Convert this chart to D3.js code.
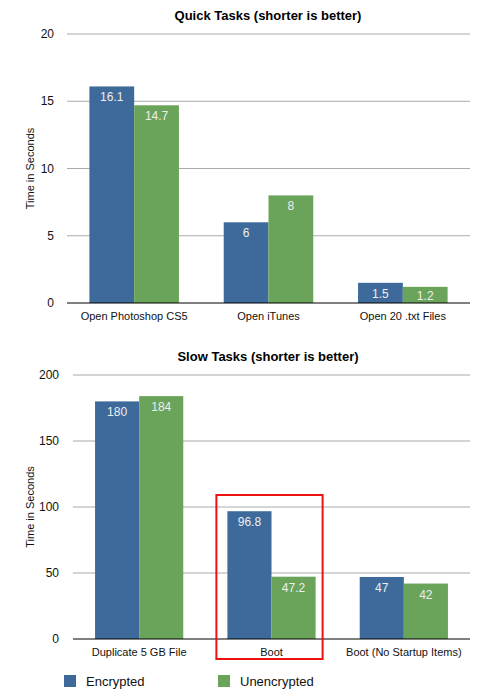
<!DOCTYPE html>
<html lang="en">
<head>
  <meta charset="utf-8">
  <title>Quick and Slow Tasks</title>
  <script src="https://cdn.jsdelivr.net/npm/d3@7"></script>
  <style>
  body { margin: 0; background: #fff; }
  svg { font-family: "Liberation Sans", Arial, sans-serif; }
  </style>
</head>
<body>
  <script>
  var series = ["Encrypted", "Unencrypted"];
  var colors = ["#3d6a9a", "#6aa45a"];

  var quickCategories = ["Open Photoshop CS5", "Open iTunes", "Open 20 .txt Files"];
  var quickEncrypted = [16.1, 6, 1.5];
  var quickUnencrypted = [14.7, 8, 1.2];
  var quickTicks = [0, 5, 10, 15, 20];

  var slowCategories = ["Duplicate 5 GB File", "Boot", "Boot (No Startup Items)"];
  var slowEncrypted = [180, 96.8, 47];
  var slowUnencrypted = [184, 47.2, 42];
  var slowTicks = [0, 50, 100, 150, 200];

  var width = 500, height = 697;

  var svg = d3.select("body").append("svg")
    .attr("width", width)
    .attr("height", height);

  function drawChart(opt) {
    var g = svg.append("g");

    var x = d3.scaleBand()
      .domain(opt.categories)
      .range([opt.left, opt.right]);

    var x1 = d3.scaleBand()
      .domain(series)
      .range([0, x.bandwidth()])
      .paddingOuter(0.5)
      .paddingInner(0);

    var y = d3.scaleLinear()
      .domain([0, d3.max(opt.ticks)])
      .range([opt.bottom, opt.top]);

    // gridlines
    g.selectAll(".grid")
      .data(opt.ticks.slice(1))
      .enter().append("line")
      .attr("x1", opt.left)
      .attr("x2", opt.right)
      .attr("y1", function(d) { return y(d); })
      .attr("y2", function(d) { return y(d); })
      .attr("stroke", "#aaaaaa")
      .attr("stroke-width", 1);

    // tick labels
    g.selectAll(".tick")
      .data(opt.ticks)
      .enter().append("text")
      .attr("x", opt.labelX)
      .attr("y", function(d) { return y(d); })
      .attr("dy", "0.35em")
      .attr("text-anchor", "end")
      .attr("font-size", 12)
      .attr("fill", "#111")
      .text(function(d) { return d; });

    var rows = opt.categories.map(function(c, i) {
      return {cat: c, values: [opt.enc[i], opt.unenc[i]]};
    });

    var groups = g.selectAll(".group")
      .data(rows)
      .enter().append("g")
      .attr("transform", function(d) { return "translate(" + x(d.cat) + ",0)"; });

    groups.selectAll("rect")
      .data(function(d) { return d.values.map(function(v, i) { return {s: series[i], v: v, i: i}; }); })
      .enter().append("rect")
      .attr("x", function(d) { return x1(d.s); })
      .attr("width", x1.bandwidth())
      .attr("y", function(d) { return y(d.v); })
      .attr("height", function(d) { return opt.bottom - y(d.v); })
      .attr("fill", function(d) { return colors[d.i]; });

    groups.selectAll(".val")
      .data(function(d) { return d.values.map(function(v, i) { return {s: series[i], v: v}; }); })
      .enter().append("text")
      .attr("x", function(d) { return x1(d.s) + x1.bandwidth() / 2; })
      .attr("y", function(d) { return Math.min(y(d.v) + 15, opt.bottom - 3); })
      .attr("text-anchor", "middle")
      .attr("font-size", 12)
      .attr("fill", "#eeeeee")
      .text(function(d) { return d.v; });

    // baseline
    g.append("line")
      .attr("x1", opt.left)
      .attr("x2", opt.right)
      .attr("y1", opt.bottom)
      .attr("y2", opt.bottom)
      .attr("stroke", "#000")
      .attr("stroke-width", 1);

    // category labels
    g.selectAll(".cat")
      .data(opt.categories)
      .enter().append("text")
      .attr("x", function(d) { return x(d) + x.bandwidth() / 2; })
      .attr("y", opt.bottom + 17)
      .attr("text-anchor", "middle")
      .attr("font-size", 11)
      .attr("fill", "#111")
      .text(function(d) { return d; });

    // title
    g.append("text")
      .attr("x", 268)
      .attr("y", opt.titleY)
      .attr("text-anchor", "middle")
      .attr("font-size", 13)
      .attr("font-weight", "bold")
      .attr("fill", "#000")
      .text(opt.title);

    // y axis title
    g.append("text")
      .attr("transform", "translate(34," + ((opt.top + opt.bottom) / 2) + ") rotate(-90)")
      .attr("text-anchor", "middle")
      .attr("font-size", 11)
      .attr("fill", "#111")
      .text("Time in Seconds");

    return {x: x, x1: x1, y: y};
  }

  drawChart({
    categories: quickCategories, enc: quickEncrypted, unenc: quickUnencrypted,
    ticks: quickTicks, left: 67, right: 470, top: 34, bottom: 303,
    labelX: 54, titleY: 20, title: "Quick Tasks (shorter is better)"
  });

  var slow = drawChart({
    categories: slowCategories, enc: slowEncrypted, unenc: slowUnencrypted,
    ticks: slowTicks, left: 73, right: 470, top: 375, bottom: 639,
    labelX: 59, titleY: 361, title: "Slow Tasks (shorter is better)"
  });

  // highlight box around Boot
  var bx = slow.x("Boot");
  svg.append("rect")
    .attr("x", bx + slow.x1("Encrypted") - 11)
    .attr("y", 495)
    .attr("width", slow.x1.bandwidth() * 2 + 18)
    .attr("height", 164)
    .attr("fill", "none")
    .attr("stroke", "#ee1111")
    .attr("stroke-width", 2);

  // legend
  var legendX = [64, 218];
  var legend = svg.selectAll(".legend")
    .data(series)
    .enter().append("g")
    .attr("transform", function(d, i) { return "translate(" + legendX[i] + ",675)"; });

  legend.append("rect")
    .attr("width", 12)
    .attr("height", 12)
    .attr("fill", function(d, i) { return colors[i]; });

  legend.append("text")
    .attr("x", 22)
    .attr("y", 11)
    .attr("font-size", 13)
    .attr("fill", "#111")
    .text(function(d) { return d; });
  </script>
</body>
</html>
